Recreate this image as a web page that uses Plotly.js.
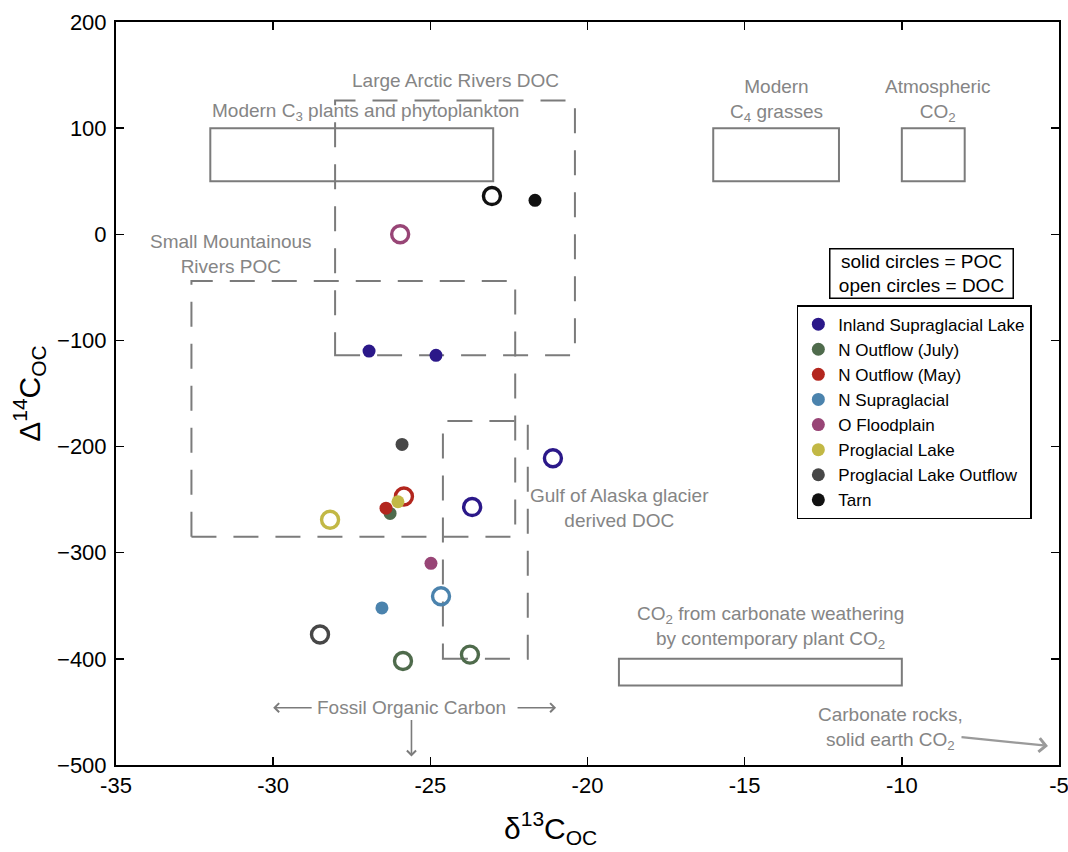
<!DOCTYPE html>
<html><head><meta charset="utf-8">
<script src="https://cdn.plot.ly/plotly-3.0.1.min.js"></script>
<style>html,body{margin:0;padding:0;background:#fff}#chart{width:1068px;height:852px}</style>
</head><body><div id="chart"></div>
<script>
const sites = ["Inland Supraglacial Lake","N Outflow (July)","N Outflow (May)","N Supraglacial","O Floodplain","Proglacial Lake","Proglacial Lake Outflow","Tarn"];
const colors = ["#2b1889","#4f6b4c","#b3261e","#4b83ad","#984576","#c2b845","#474747","#111111"];
// POC (solid circles)
const pocX = [[-26.95,-24.82],[-26.28],[-26.41],[-26.54],[-24.98],[-26.03],[-25.90],[-21.67]];
const pocY = [[-110,-114],[-263],[-258],[-352],[-310],[-252],[-198],[32]];
// DOC (open circles)
const docX = [[-21.10,-23.67],[-25.87,-23.74],[-25.84],[-24.66],[-25.96],[-28.19],[-28.51],[-23.04]];
const docY = [[-211,-257],[-402,-396],[-247],[-341],[0],[-269],[-377],[36]];

// reference source ranges: solid boxes [x0,x1,y0,y1]
const solidBoxes = [[-32,-23,50,100],[-16,-12,50,100],[-10,-8,50,100],[-19,-10,-425,-400]];
// dashed boxes
const dashedBoxes = [[-28.03,-20.4,-114,126],[-32.6,-22.3,-285,-44],[-24.6,-21.9,-400,-176]];

const gray = "#7b7b7b";
const txtGray = "#858585";
const FONT = "Liberation Sans, Arial, Helvetica, sans-serif";

const traces = [];
for (let i = 0; i < sites.length; i++) {
  traces.push({
    x: docX[i], y: docY[i], type: "scatter", mode: "markers", name: sites[i],
    showlegend: false, hoverinfo: "x+y",
    marker: {symbol: "circle-open", size: 17, color: colors[i], line: {width: 3.4, color: colors[i]}}
  });
}
for (let i = 0; i < sites.length; i++) {
  traces.push({
    x: pocX[i], y: pocY[i], type: "scatter", mode: "markers", name: sites[i],
    marker: {symbol: "circle", size: 13, color: colors[i]}
  });
}

const shapes = [];
solidBoxes.forEach(b => shapes.push({type: "rect", xref: "x", yref: "y", x0: b[0], x1: b[1], y0: b[2], y1: b[3],
  line: {color: gray, width: 2}, layer: "below"}));
dashedBoxes.forEach(b => shapes.push({type: "rect", xref: "x", yref: "y", x0: b[0], x1: b[1], y0: b[2], y1: b[3],
  line: {color: gray, width: 2, dash: "25px,17px"}, layer: "below"}));

const af = {family: FONT, size: 19, color: txtGray};
const annotations = [
  {x: -24.2, y: 145, text: "Large Arctic Rivers DOC", showarrow: false, font: af},
  {x: -32, y: 115, xanchor: "left", text: "Modern C<sub>3</sub> plants and phytoplankton", showarrow: false, font: af},
  {x: -14, y: 126, text: "Modern<br>C<sub>4</sub> grasses", showarrow: false, font: af},
  {x: -8.85, y: 126, text: "Atmospheric<br>CO<sub>2</sub>", showarrow: false, font: af},
  {x: -31.34, y: -19, text: "Small Mountainous<br>Rivers POC", showarrow: false, font: af},
  {x: -18.97, y: -258, text: "Gulf of Alaska glacier<br>derived DOC", showarrow: false, font: af},
  {x: -14.19, y: -370, text: "CO<sub>2</sub> from carbonate weathering<br>by contemporary plant CO<sub>2</sub>", showarrow: false, font: af},
  {x: -10.37, y: -466, text: "Carbonate rocks,<br>solid earth CO<sub>2</sub>", showarrow: false, font: af},
  {x: -25.6, y: -446, text: "Fossil Organic Carbon", showarrow: false, font: af},
  // arrows
  {x: -30.0, y: -446, ax: 40, ay: 0, text: "", showarrow: true, arrowhead: 4, arrowsize: 1.1, arrowwidth: 1.6, arrowcolor: gray},
  {x: -21.0, y: -446, ax: -40, ay: 0, text: "", showarrow: true, arrowhead: 4, arrowsize: 1.1, arrowwidth: 1.6, arrowcolor: gray},
  {x: -25.6, y: -492, ax: 0, ay: -38, text: "", showarrow: true, arrowhead: 4, arrowsize: 1.1, arrowwidth: 1.6, arrowcolor: gray},
  {x: -5.35, y: -482, ax: -88, ay: -9, text: "", showarrow: true, arrowhead: 4, arrowsize: 1.2, arrowwidth: 2.2, arrowcolor: "#9a9a9a"},
  // marker key
  {x: -9.39, y: -36.5, text: "solid circles = POC<br>open circles = DOC", showarrow: false, width: 180,
   font: {family: FONT, size: 19, color: "#000"}, bordercolor: "#000", borderwidth: 1.5, borderpad: 1, bgcolor: "#fff"},
  // x axis title
  {xref: "paper", yref: "paper", x: 0.461, y: -0.085, yanchor: "middle", text: "δ<sup>13</sup>C<sub>OC</sub>", showarrow: false,
   font: {size: 30, family: FONT, color: "#000"}}
];

const layout = {
  width: 1068, height: 852,
  margin: {l: 116, r: 9, t: 22, b: 87},
  paper_bgcolor: "#fff", plot_bgcolor: "#fff",
  font: {family: FONT, color: "#000"},
  xaxis: {
    range: [-35, -5], tickvals: [-35,-30,-25,-20,-15,-10,-5], ticktext: ["-35","-30","-25","-20","-15","-10","-5"],
    ticks: "inside", ticklen: 8, tickwidth: 1.5, tickcolor: "#000",
    showline: true, linecolor: "#000", linewidth: 2, mirror: "ticks",
    showgrid: false, zeroline: false, ticklabeloverflow: "allow",
    tickfont: {size: 22, family: FONT, color: "#000"}
  },
  yaxis: {
    range: [-500, 200], tickvals: [-500,-400,-300,-200,-100,0,100,200],
    ticks: "inside", ticklen: 8, tickwidth: 1.5, tickcolor: "#000",
    showline: true, linecolor: "#000", linewidth: 2, mirror: "ticks",
    showgrid: false, zeroline: false, ticklabelstandoff: 3, ticklabeloverflow: "allow",
    tickfont: {size: 22, family: FONT, color: "#000"},
    title: {text: "Δ<sup>14</sup>C<sub>OC</sub>", font: {size: 30, family: FONT, color: "#000"}, standoff: 8}
  },
  showlegend: true,
  legend: {x: 0.722, y: 0.619, xanchor: "left", yanchor: "top", bordercolor: "#000", borderwidth: 1.5,
    bgcolor: "#fff", font: {size: 17, family: FONT, color: "#000"}, itemwidth: 30, tracegroupgap: 0},
  shapes: shapes, annotations: annotations
};

Plotly.newPlot("chart", traces, layout, {displayModeBar: false, staticPlot: true});
</script></body></html>
